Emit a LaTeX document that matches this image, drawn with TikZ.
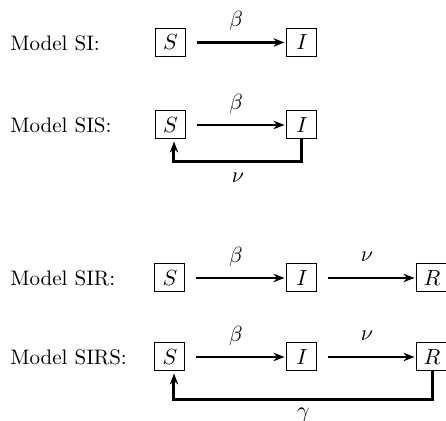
\documentclass[tikz,border=0pt]{standalone}
\usetikzlibrary{arrows.meta}
\begin{document}
\begin{tikzpicture}[x=0.5pt,y=-0.5pt,
  font=\fontsize{10.5}{12}\selectfont,
  state/.style={draw,line width=0.5pt,minimum width=15pt,minimum height=14pt,inner sep=0pt},
  lbl/.style={anchor=west,inner sep=0pt},
  flow/.style={-{Stealth[length=5.5pt,width=4.2pt]},line width=1.15pt,shorten <=5.5pt,shorten >=1pt},
  back/.style={-{Stealth[length=5.5pt,width=4.2pt]},line width=1.5pt,shorten >=1pt}]
\useasboundingbox (0,0) rectangle (446,421);
% SI
\node[lbl] (t1) at (10,43) {Model SI:};
\node[state] (s1) at (170.5,42.5) {$S$};
\node[state] (i1) at (302,42.5) {$I$};
\draw[flow] (s1) -- node[midway,yshift=10.5pt] (b1) {$\beta$} (i1);
% SIS
\node[lbl] (t2) at (10,125) {Model SIS:};
\node[state] (s2) at (170.5,125) {$S$};
\node[state] (i2) at (302,125) {$I$};
\draw[flow] (s2) -- node[midway,yshift=10.5pt] (b2) {$\beta$} (i2);
\coordinate (c2a) at (302,162);
\coordinate (c2b) at (174,162);
\draw[back] (i2.south) -- (c2a) -- node[midway,yshift=-8pt] (n2) {$\nu$} (c2b) -- ([xshift=1.75pt]s2.south);
% SIR
\node[lbl] (t3) at (10,278) {Model SIR:};
\node[state] (s3) at (170,278) {$S$};
\node[state] (i3) at (302,278) {$I$};
\node[state] (r3) at (432,278) {$R$};
\draw[flow] (s3) -- node[midway,yshift=10.5pt] (b3) {$\beta$} (i3);
\draw[flow] (i3) -- node[midway,yshift=10.5pt] (n3) {$\nu$} (r3);
% SIRS
\node[lbl] (t4) at (10,357) {Model SIRS:};
\node[state] (s4) at (170,357) {$S$};
\node[state] (i4) at (302,357) {$I$};
\node[state] (r4) at (432,357) {$R$};
\draw[flow] (s4) -- node[midway,yshift=10.5pt] (b4) {$\beta$} (i4);
\draw[flow] (i4) -- node[midway,yshift=10.5pt] (n4) {$\nu$} (r4);
\coordinate (c4a) at (433,400);
\coordinate (c4b) at (174,400);
\draw[back] ([xshift=0.5pt]r4.south) -- (c4a) -- node[midway,yshift=-7.5pt] (g4) {$\gamma$} (c4b) -- ([xshift=2pt]s4.south);
\end{tikzpicture}
\end{document}
